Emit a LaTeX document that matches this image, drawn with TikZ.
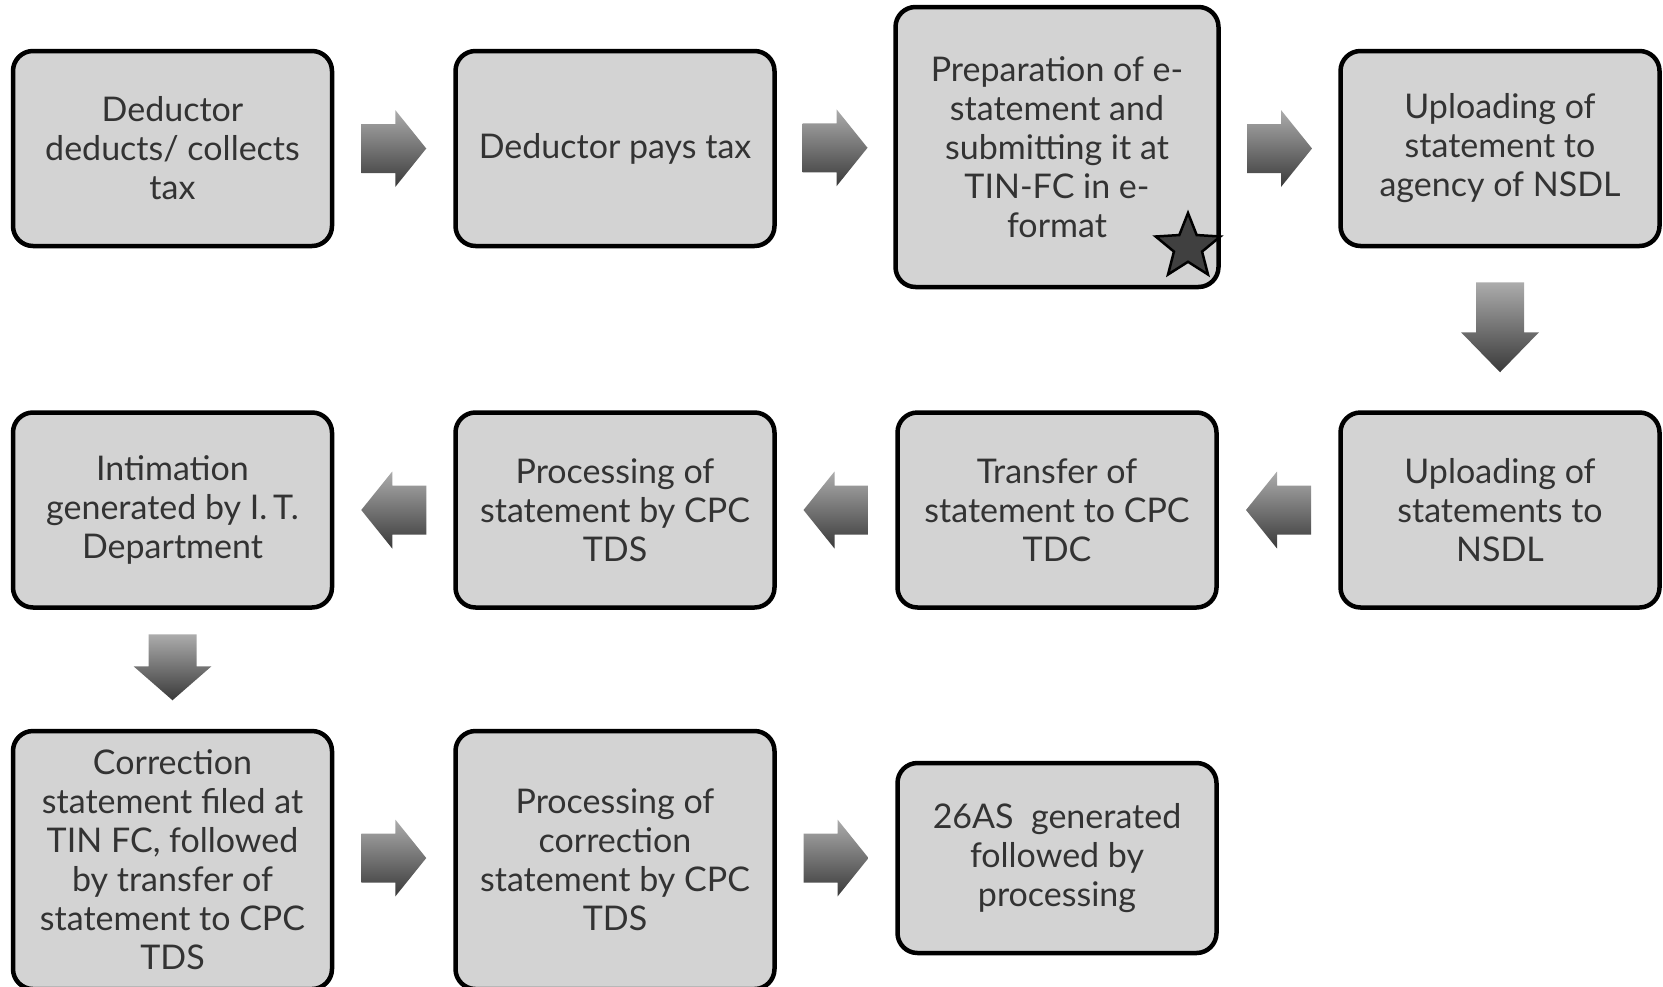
\documentclass[tikz,border=0pt]{standalone}
\usepackage{fontspec}
\setmainfont{Lato}
\usetikzlibrary{shapes.geometric,calc}

\definecolor{boxfill}{HTML}{D3D3D3}
\definecolor{boxtext}{HTML}{333333}
\definecolor{arrtop}{HTML}{ACACAC}
\definecolor{arrbot}{HTML}{3A3A3A}

\tikzset{
  stepbox/.style={draw=black, line width=4.5pt, fill=boxfill, rounded corners=20pt,
    minimum width=319pt, minimum height=195pt, inner sep=0pt, align=center,
    text=boxtext, font=\fontsize{34}{39}\selectfont},
  blockarr/.style={top color=arrtop, bottom color=arrbot}
}

% horizontal block arrow, #2 = 1 (right) or -1 (left)
\newcommand{\arrh}[2]{\shade[blockarr, shift={(#1)}, xscale=#2]
  (-32.5,-24.5) -- (1.5,-24.5) -- (1.5,-38.5) -- (32.5,0) -- (1.5,38.5) -- (1.5,24.5) -- (-32.5,24.5) -- cycle;}
% vertical block arrow, #2 = top, #3 = neck, #4 = tip (offsets from centre)
\newcommand{\arrv}[4]{\shade[blockarr, shift={(#1)}]
  (-24,#2) -- (24,#2) -- (24,#3) -- (39,#3) -- (0,#4) -- (-39,#3) -- (-24,#3) -- cycle;}

\begin{document}
\begin{tikzpicture}[x=1pt,y=-1pt]
  \clip (0,0) rectangle (1663,986);

  % row 1
  \node[stepbox] (b1) at (172.5,148.5) {Deductor\\deducts/ collects\\tax};
  \node[stepbox] (b2) at (615,148.5) {Deductor pays tax};
  \node[stepbox, minimum width=323pt, minimum height=280pt] (b3) at (1057,147)
        {Preparation of e-\\statement and\\submitting it at\\TIN-FC in e-\\format};
  \node[stepbox] (b4) at (1500,148.5) {Uploading of\\statement to\\agency of NSDL};
  \node[star, star points=5, star point ratio=2.3, minimum size=68pt, inner sep=0pt,
        draw=black, line width=2.5pt, fill=black!75] (mark) at (1188,247) {};

  % row 2
  \node[stepbox] (b5) at (1500,510) {Uploading of\\statements to\\NSDL};
  \node[stepbox] (b6) at (1057,510) {Transfer of\\statement to CPC\\TDC};
  \node[stepbox] (b7) at (615,510) {Processing of\\statement by CPC\\TDS};
  \node[stepbox] (b8) at (172.5,510) {Intimation\\generated by I.\,T.\\Department};

  % row 3
  \node[stepbox, minimum height=258pt] (b9) at (172.5,860)
        {Correction\\statement filed at\\TIN FC, followed\\by transfer of\\statement to CPC\\TDS};
  \node[stepbox, minimum height=258pt] (b10) at (615,860)
        {Processing of\\correction\\statement by CPC\\TDS};
  \node[stepbox, minimum height=190pt] (b11) at (1057,858)
        {26AS\ \ generated\\followed by\\processing};

  % arrows
  \coordinate (a12) at ($(b1.east)!0.5!(b2.west)$);
  \coordinate (a23) at ($(b2.east)!0.5!(b3.west)$);
  \coordinate (a34) at ($(b3.east|-b4)!0.5!(b4.west)$);
  \coordinate (a45) at ($(b4.south)!0.5!(b5.north)$);
  \coordinate (a56) at ($(b5.west)!0.5!(b6.east)$);
  \coordinate (a67) at ($(b6.west)!0.5!(b7.east)$);
  \coordinate (a78) at ($(b7.west)!0.5!(b8.east)$);
  \coordinate (a89) at ($(b8.south)!0.5!(b9.north)$);
  \coordinate (a910) at ($(b9.east|-b11)!0.5!(b10.west|-b11)$);
  \coordinate (a1011) at ($(b10.east|-b11)!0.5!(b11.west)$);

  \arrh{a12}{1}
  \arrh{a23}{1}
  \arrh{a34}{1}
  \arrv{a45}{-47}{3}{43}
  \arrh{a56}{-1}
  \arrh{a67}{-1}
  \arrh{a78}{-1}
  \arrv{a89}{-35}{-3}{31}
  \arrh{a910}{1}
  \arrh{a1011}{1}

\end{tikzpicture}
\end{document}
